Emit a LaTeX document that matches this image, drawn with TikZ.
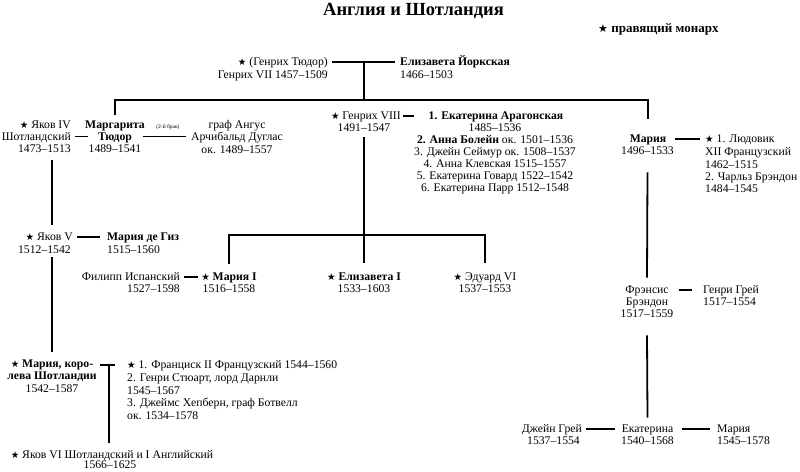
\documentclass[tikz,border=0pt]{standalone}
\usepackage{fontspec}
\setmainfont{Liberation Serif}
\newfontfamily\symfont{DejaVu Sans}
\newcommand\st{{\symfont\fontsize{9.5}{10}\selectfont ★}}
\usetikzlibrary{calc}
\begin{document}
\begin{tikzpicture}[x=1pt,y=-1pt,
  every node/.style={inner sep=0pt, font=\fontsize{11.7}{12.3}\selectfont},
  nm/.style={text height=7.8pt, text depth=2.5pt},
  link/.style={line width=1.8pt, line cap=butt}]
\fill[white] (0,0) rectangle (800,471);
\useasboundingbox (0,0) rectangle (800,471);

% title and legend
\node[anchor=base, font=\fontsize{18.5}{20}\selectfont\bfseries] (title) at (413.5,15) {Англия и Шотландия};
\node[anchor=base west, font=\fontsize{13}{14}\selectfont\bfseries] (legend) at (598,32.5) {{\symfont\fontsize{11}{12}\selectfont ★} правящий монарх};

% Henry VII and Elizabeth of York
\node[nm, anchor=base east] (h7) at (328,65) {\st{} (Генрих Тюдор)};
\node[anchor=base east] (h7d) at (328,78) {Генрих VII 1457–1509};
\node[nm, anchor=base west] (ey) at (400,65) {\textbf{Елизавета Йоркская}};
\node[anchor=base west] (eyd) at (400,78) {1466–1503};

% Margaret line
\node[align=right, anchor=north east] (j4) at (71,120.2) {\st{} Яков IV\\Шотландский\\1473–1513};
\node[align=center, anchor=north] (marg) at (115,120.2) {\textbf{Маргарита}\\\textbf{Тюдор}\\1489–1541};
\node[align=center, anchor=north] (ang) at (237,120.2) {граф Ангус\\Арчибальд Дуглас\\ок. 1489–1557};

\node[nm, anchor=base east] (j5) at (73,240) {\st{} Яков V};
\node[anchor=base east] (j5d) at (71,253) {1512–1542};
\node[nm, anchor=base west] (mg) at (107,240) {\textbf{Мария де Гиз}};
\node[anchor=base west] (mgd) at (107,253) {1515–1560};

\node[align=center, anchor=north, font=\fontsize{11.7}{12.5}\selectfont] (mqs) at (52,359.5) {\st{} \textbf{Мария, коро-}\\\textbf{лева Шотландии}\\1542–1587};
\node[nm, anchor=base west] (hus) at (127,368) {\st{} 1. Франциск II Французский 1544–1560};
\node[align=left, anchor=north west, font=\fontsize{11.7}{12.8}\selectfont] (husr) at (127,373.3) {2. Генри Стюарт, лорд Дарнли\\1545–1567\\3. Джеймс Хепберн, граф Ботвелл\\ок. 1534–1578};

\node[nm, anchor=base] (j6) at (112,458) {\st{} Яков VI Шотландский и I Английский};
\node[anchor=base] (j6d) at (110,468.5) {1566–1625};

% Henry VIII
\node[nm, anchor=base east] (h8) at (401,119) {\st{} Генрих VIII};
\node[anchor=base] (h8d) at (364,131) {1491–1547};
\node[nm, anchor=base] (w1) at (496,119) {\textbf{1. Екатерина Арагонская}};
\node[align=center, anchor=north, font=\fontsize{11.7}{12}\selectfont] (wr) at (495,123.3) {1485–1536\\\textbf{2. Анна Болейн} ок. 1501–1536\\3. Джейн Сеймур ок. 1508–1537\\4. Анна Клевская 1515–1557\\5. Екатерина Говард 1522–1542\\6. Екатерина Парр 1512–1548};

\node[nm, anchor=base east] (ph) at (180,280) {Филипп Испанский};
\node[anchor=base east] (phd) at (180,292) {1527–1598};
\node[nm, anchor=base] (m1) at (229,280) {\st{} \textbf{Мария I}};
\node[anchor=base] (m1d) at (229,292) {1516–1558};
\node[nm, anchor=base] (e1) at (364,280) {\st{} \textbf{Елизавета I}};
\node[anchor=base] (e1d) at (364,292) {1533–1603};
\node[nm, anchor=base] (ed6) at (485,280) {\st{} Эдуард VI};
\node[anchor=base] (ed6d) at (485,292) {1537–1553};

% Mary Tudor line
\node[nm, anchor=base] (mt) at (648,142) {\textbf{Мария}};
\node[anchor=base] (mtd) at (647.5,154) {1496–1533};
\node[nm, anchor=base west] (lu) at (705,142) {\st{} 1. Людовик};
\node[align=left, anchor=north west, font=\fontsize{11.7}{12.4}\selectfont] (lur) at (705,147.4) {XII Французский\\1462–1515\\2. Чарльз Брэндон\\1484–1545};

\node[align=center, anchor=north, font=\fontsize{11.7}{12}\selectfont] (fb) at (647,285.2) {Фрэнсис\\Брэндон\\1517–1559};
\node[nm, anchor=base west] (hg) at (703,293) {Генри Грей};
\node[anchor=base west] (hgd) at (703,305) {1517–1554};

\node[nm, anchor=base east] (jg) at (582,432) {Джейн Грей};
\node[anchor=base east] (jgd) at (580,444) {1537–1554};
\node[nm, anchor=base] (kat) at (647.5,432) {Екатерина};
\node[anchor=base] (katd) at (647.5,444) {1540–1568};
\node[nm, anchor=base west] (km) at (717,432) {Мария};
\node[anchor=base west] (kmd) at (717,444) {1545–1578};

% ---------------- connectors ----------------
\coordinate (hj) at ($(h7.east)!.5!(ey.west)$);
\coordinate (bar) at (0,100);
\draw[link, shorten <=4pt, shorten >=5pt] (h7.east) -- (ey.west);
\draw[link] (hj) -- (hj |- bar);
\draw[link, shorten <=5pt, shorten >=15pt] (marg.north) |- (hj |- bar) -| (mt.north);

\draw[link, shorten <=4pt, shorten >=-3pt] (j4.east) -- (j4.east -| marg.west);
\draw[link, shorten <=-2pt, shorten >=4.5pt] (marg.east) -- node[above=6pt, font=\fontsize{5.5}{6}\selectfont]{(2-й брак)} (marg.east -| ang.west);

\coordinate (spL) at (52,0);
\draw[link] ([yshift=-7pt]spL |- j4.south) -- ([yshift=7pt]spL |- j5.north);
\draw[link, shorten <=4pt, shorten >=7pt] (j5.east) -- (mg.west);
\draw[link] ([yshift=-4pt]spL |- j5d.south) -- ([yshift=8pt]spL |- mqs.north);

\coordinate (mqa) at ($(mqs.east |- hus.west)+(3,0)$);
\coordinate (mqb) at ($(hus.west)+(-12,0)$);
\coordinate (mqj) at ($(mqa)!0.6!(mqb)$);
\draw[link] (mqa) -- (mqb);
\draw[link] (mqj) -- ([yshift=7.5pt]mqj |- j6.north);

\draw[link, shorten <=2pt, shorten >=14pt] (h8.east) -- (w1.west);
\draw[link] ([yshift=-6pt]h8d.south) -- ([yshift=9pt]e1.north);
\coordinate (cb) at (0,235);
\draw[link] ([yshift=8pt]m1.north) |- (cb -| e1.north) -| ([yshift=9pt]ed6.north);
\draw[link, shorten <=4pt, shorten >=3pt] (ph.east) -- (m1.west);

\draw[link, shorten <=9pt, shorten >=5pt] (mt.east) -- (lu.west);
\draw[link] ([yshift=-18pt]mtd.south) -- ([yshift=7.5pt]fb.north);
\draw[link, shorten <=5pt, shorten >=11pt] (fb.east |- hg.west) -- (hg.west);
\draw[link] ([yshift=-18pt]fb.south) -- ([yshift=6.5pt]kat.north);
\draw[link, shorten <=4pt, shorten >=7pt] (jg.east) -- (kat.west);
\draw[link, shorten <=9pt, shorten >=7pt] (kat.east) -- (km.west);
\end{tikzpicture}
\end{document}
